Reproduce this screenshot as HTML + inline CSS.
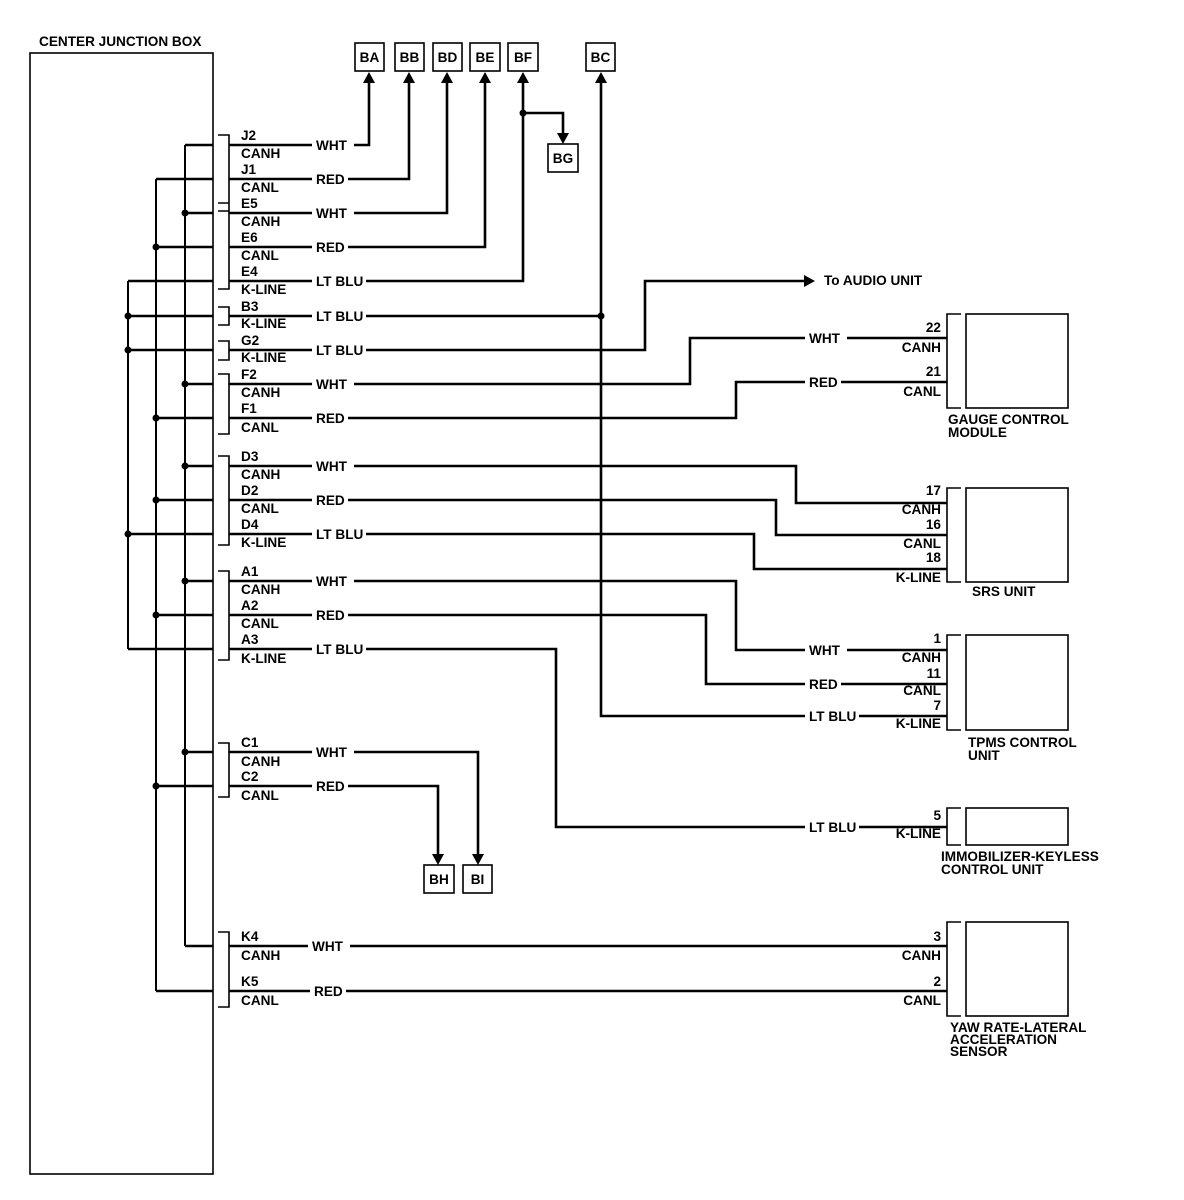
<!DOCTYPE html>
<html><head><meta charset="utf-8"><style>
html,body{margin:0;padding:0;background:#fff}
svg{display:block}
text{font-family:"Liberation Sans",Arial,sans-serif;font-weight:bold;font-size:13.6px;fill:#000}
.w{fill:none;stroke:#000;stroke-width:2.6}
.t{fill:none;stroke:#000;stroke-width:1.6}
.b{fill:#fff;stroke:none}
</style></head><body>
<svg width="1184" height="1200" viewBox="0 0 1184 1200" xmlns="http://www.w3.org/2000/svg">
<text x="39" y="46">CENTER JUNCTION BOX</text>
<rect x="30" y="53" width="183" height="1121" class="t"/>

<path class="t" d="M185,145V946M156,179V991M128,281V649" style="stroke-width:2"/>
<path class="w" d="M185,145H213M156,179H213M185,213H213M156,247H213M128,281H213M128,316H213M128,350H213M185,384H213M156,418H213M185,466H213M156,500H213M128,534H213M185,581H213M156,615H213M128,649H213M185,752H213M156,786H213M185,946H213M156,991H213"/>
<g fill="#000">
<circle cx="185" cy="213" r="3.5"/><circle cx="156" cy="247" r="3.5"/>
<circle cx="128" cy="316" r="3.5"/><circle cx="128" cy="350" r="3.5"/>
<circle cx="185" cy="384" r="3.5"/><circle cx="156" cy="418" r="3.5"/>
<circle cx="185" cy="466" r="3.5"/><circle cx="156" cy="500" r="3.5"/><circle cx="128" cy="534" r="3.5"/>
<circle cx="185" cy="581" r="3.5"/><circle cx="156" cy="615" r="3.5"/>
<circle cx="185" cy="752" r="3.5"/><circle cx="156" cy="786" r="3.5"/>
<circle cx="601" cy="316" r="3.5"/><circle cx="523" cy="113" r="3.5"/>
</g>
<path class="t" d="M218,135H229V211H218M218,203H229V289H218M218,307H229V325H218M218,341H229V360H218M218,374H229V434H218M218,456H229V545H218M218,571H229V660H218M218,743H229V797H218M218,932H229V1007H218"/>

<path class="w" d="M229,145H369V82M229,179H409V82M229,213H447V82M229,247H485V82M229,281H523V82
M523,113H563V134
M229,316H601M601,82V716H947
M229,350H645V281H804
M229,384H690V338H947M229,418H736V382H947
M229,466H796V503H947M229,500H776V535H947M229,534H754V569H947
M229,581H736V650H947M229,615H706V684H947M229,649H556V827H947
M229,752H478V855M229,786H438V855
M229,946H947M229,991H947"/>
<g fill="#000">
<path d="M369,72l-6,11h12z"/><path d="M409,72l-6,11h12z"/><path d="M447,72l-6,11h12z"/>
<path d="M485,72l-6,11h12z"/><path d="M523,72l-6,11h12z"/><path d="M601,72l-6,11h12z"/>
<path d="M563,144l-6,-11h12z"/>
<path d="M438,865l-6,-11h12z"/><path d="M478,865l-6,-11h12z"/>
<path d="M815,281l-11,-6v12z"/>
</g>
<g class="t">
<rect x="355" y="43" width="29" height="28"/><rect x="395" y="43" width="29" height="28"/>
<rect x="433" y="43" width="29" height="28"/><rect x="470" y="43" width="30" height="28"/>
<rect x="508" y="43" width="30" height="28"/><rect x="586" y="43" width="29" height="28"/>
<rect x="548" y="144" width="30" height="28"/>
<rect x="424" y="865" width="30" height="28"/><rect x="463" y="865" width="29" height="28"/>
</g>
<g text-anchor="middle">
<text x="369.5" y="62">BA</text><text x="409.5" y="62">BB</text><text x="447.5" y="62">BD</text>
<text x="485" y="62">BE</text><text x="523" y="62">BF</text><text x="600.5" y="62">BC</text>
<text x="563" y="163">BG</text><text x="439" y="884">BH</text><text x="477.5" y="884">BI</text>
</g>

<text x="241" y="140">J2</text><text x="241" y="158">CANH</text>
<text x="241" y="174">J1</text><text x="241" y="192">CANL</text>
<text x="241" y="208">E5</text><text x="241" y="226">CANH</text>
<text x="241" y="242">E6</text><text x="241" y="260">CANL</text>
<text x="241" y="276">E4</text><text x="241" y="294">K-LINE</text>
<text x="241" y="311">B3</text><text x="241" y="328">K-LINE</text>
<text x="241" y="345">G2</text><text x="241" y="362">K-LINE</text>
<text x="241" y="379">F2</text><text x="241" y="397">CANH</text>
<text x="241" y="413">F1</text><text x="241" y="432">CANL</text>
<text x="241" y="461">D3</text><text x="241" y="479">CANH</text>
<text x="241" y="495">D2</text><text x="241" y="513">CANL</text>
<text x="241" y="529">D4</text><text x="241" y="547">K-LINE</text>
<text x="241" y="576">A1</text><text x="241" y="594">CANH</text>
<text x="241" y="610">A2</text><text x="241" y="628">CANL</text>
<text x="241" y="644">A3</text><text x="241" y="663">K-LINE</text>
<text x="241" y="747">C1</text><text x="241" y="766">CANH</text>
<text x="241" y="781">C2</text><text x="241" y="800">CANL</text>
<text x="241" y="941">K4</text><text x="241" y="960">CANH</text>
<text x="241" y="986">K5</text><text x="241" y="1005">CANL</text>

<!-- label backgrounds -->
<g class="b">
<rect x="312" y="138" width="42" height="14"/><rect x="312" y="172" width="36" height="14"/>
<rect x="312" y="206" width="42" height="14"/><rect x="312" y="240" width="36" height="14"/>
<rect x="312" y="274" width="54" height="14"/><rect x="312" y="309" width="54" height="14"/>
<rect x="312" y="343" width="54" height="14"/><rect x="312" y="377" width="42" height="14"/>
<rect x="312" y="411" width="36" height="14"/><rect x="312" y="459" width="42" height="14"/>
<rect x="312" y="493" width="36" height="14"/><rect x="312" y="527" width="54" height="14"/>
<rect x="312" y="574" width="42" height="14"/><rect x="312" y="608" width="36" height="14"/>
<rect x="312" y="642" width="54" height="14"/><rect x="312" y="745" width="42" height="14"/>
<rect x="312" y="779" width="36" height="14"/><rect x="308" y="939" width="42" height="14"/>
<rect x="310" y="984" width="36" height="14"/>
<rect x="805" y="331" width="42" height="14"/><rect x="805" y="375" width="36" height="14"/>
<rect x="805" y="643" width="42" height="14"/><rect x="805" y="677" width="36" height="14"/>
<rect x="805" y="709" width="54" height="14"/><rect x="805" y="820" width="54" height="14"/>
</g>
<text x="316" y="150">WHT</text><text x="316" y="184">RED</text>
<text x="316" y="218">WHT</text><text x="316" y="252">RED</text>
<text x="316" y="286">LT BLU</text><text x="316" y="321">LT BLU</text>
<text x="316" y="355">LT BLU</text><text x="316" y="389">WHT</text>
<text x="316" y="423">RED</text><text x="316" y="471">WHT</text>
<text x="316" y="505">RED</text><text x="316" y="539">LT BLU</text>
<text x="316" y="586">WHT</text><text x="316" y="620">RED</text>
<text x="316" y="654">LT BLU</text><text x="316" y="757">WHT</text>
<text x="316" y="791">RED</text><text x="312" y="951">WHT</text>
<text x="314" y="996">RED</text>
<text x="809" y="343">WHT</text><text x="809" y="387">RED</text>
<text x="809" y="655">WHT</text><text x="809" y="689">RED</text>
<text x="809" y="721">LT BLU</text><text x="809" y="832">LT BLU</text>
<text x="824" y="285">To AUDIO UNIT</text>

<path class="t" d="M961,314H947V408H961M961,488H947V582H961M961,635H947V730H961M961,808H947V845H961M961,922H947V1016H961"/>
<g class="t">
<rect x="966" y="314" width="102" height="94"/>
<rect x="966" y="488" width="102" height="94"/>
<rect x="966" y="635" width="102" height="95"/>
<rect x="966" y="808" width="102" height="37"/>
<rect x="966" y="922" width="102" height="94"/>
</g>
<g text-anchor="end">
<text x="941" y="332">22</text><text x="941" y="352">CANH</text>
<text x="941" y="376">21</text><text x="941" y="396">CANL</text>
<text x="941" y="495">17</text><text x="941" y="514">CANH</text>
<text x="941" y="529">16</text><text x="941" y="548">CANL</text>
<text x="941" y="562">18</text><text x="941" y="582">K-LINE</text>
<text x="941" y="643">1</text><text x="941" y="662">CANH</text>
<text x="941" y="678">11</text><text x="941" y="695">CANL</text>
<text x="941" y="710">7</text><text x="941" y="728">K-LINE</text>
<text x="941" y="820">5</text><text x="941" y="838">K-LINE</text>
<text x="941" y="941">3</text><text x="941" y="960">CANH</text>
<text x="941" y="986">2</text><text x="941" y="1005">CANL</text>
</g>
<text x="948" y="424">GAUGE CONTROL</text><text x="948" y="437">MODULE</text>
<text x="972" y="596">SRS UNIT</text>
<text x="968" y="747">TPMS CONTROL</text><text x="968" y="760">UNIT</text>
<text x="941" y="861">IMMOBILIZER-KEYLESS</text><text x="941" y="874">CONTROL UNIT</text>
<text x="950" y="1032">YAW RATE-LATERAL</text><text x="950" y="1044">ACCELERATION</text><text x="950" y="1056">SENSOR</text>
</svg>
</body></html>
